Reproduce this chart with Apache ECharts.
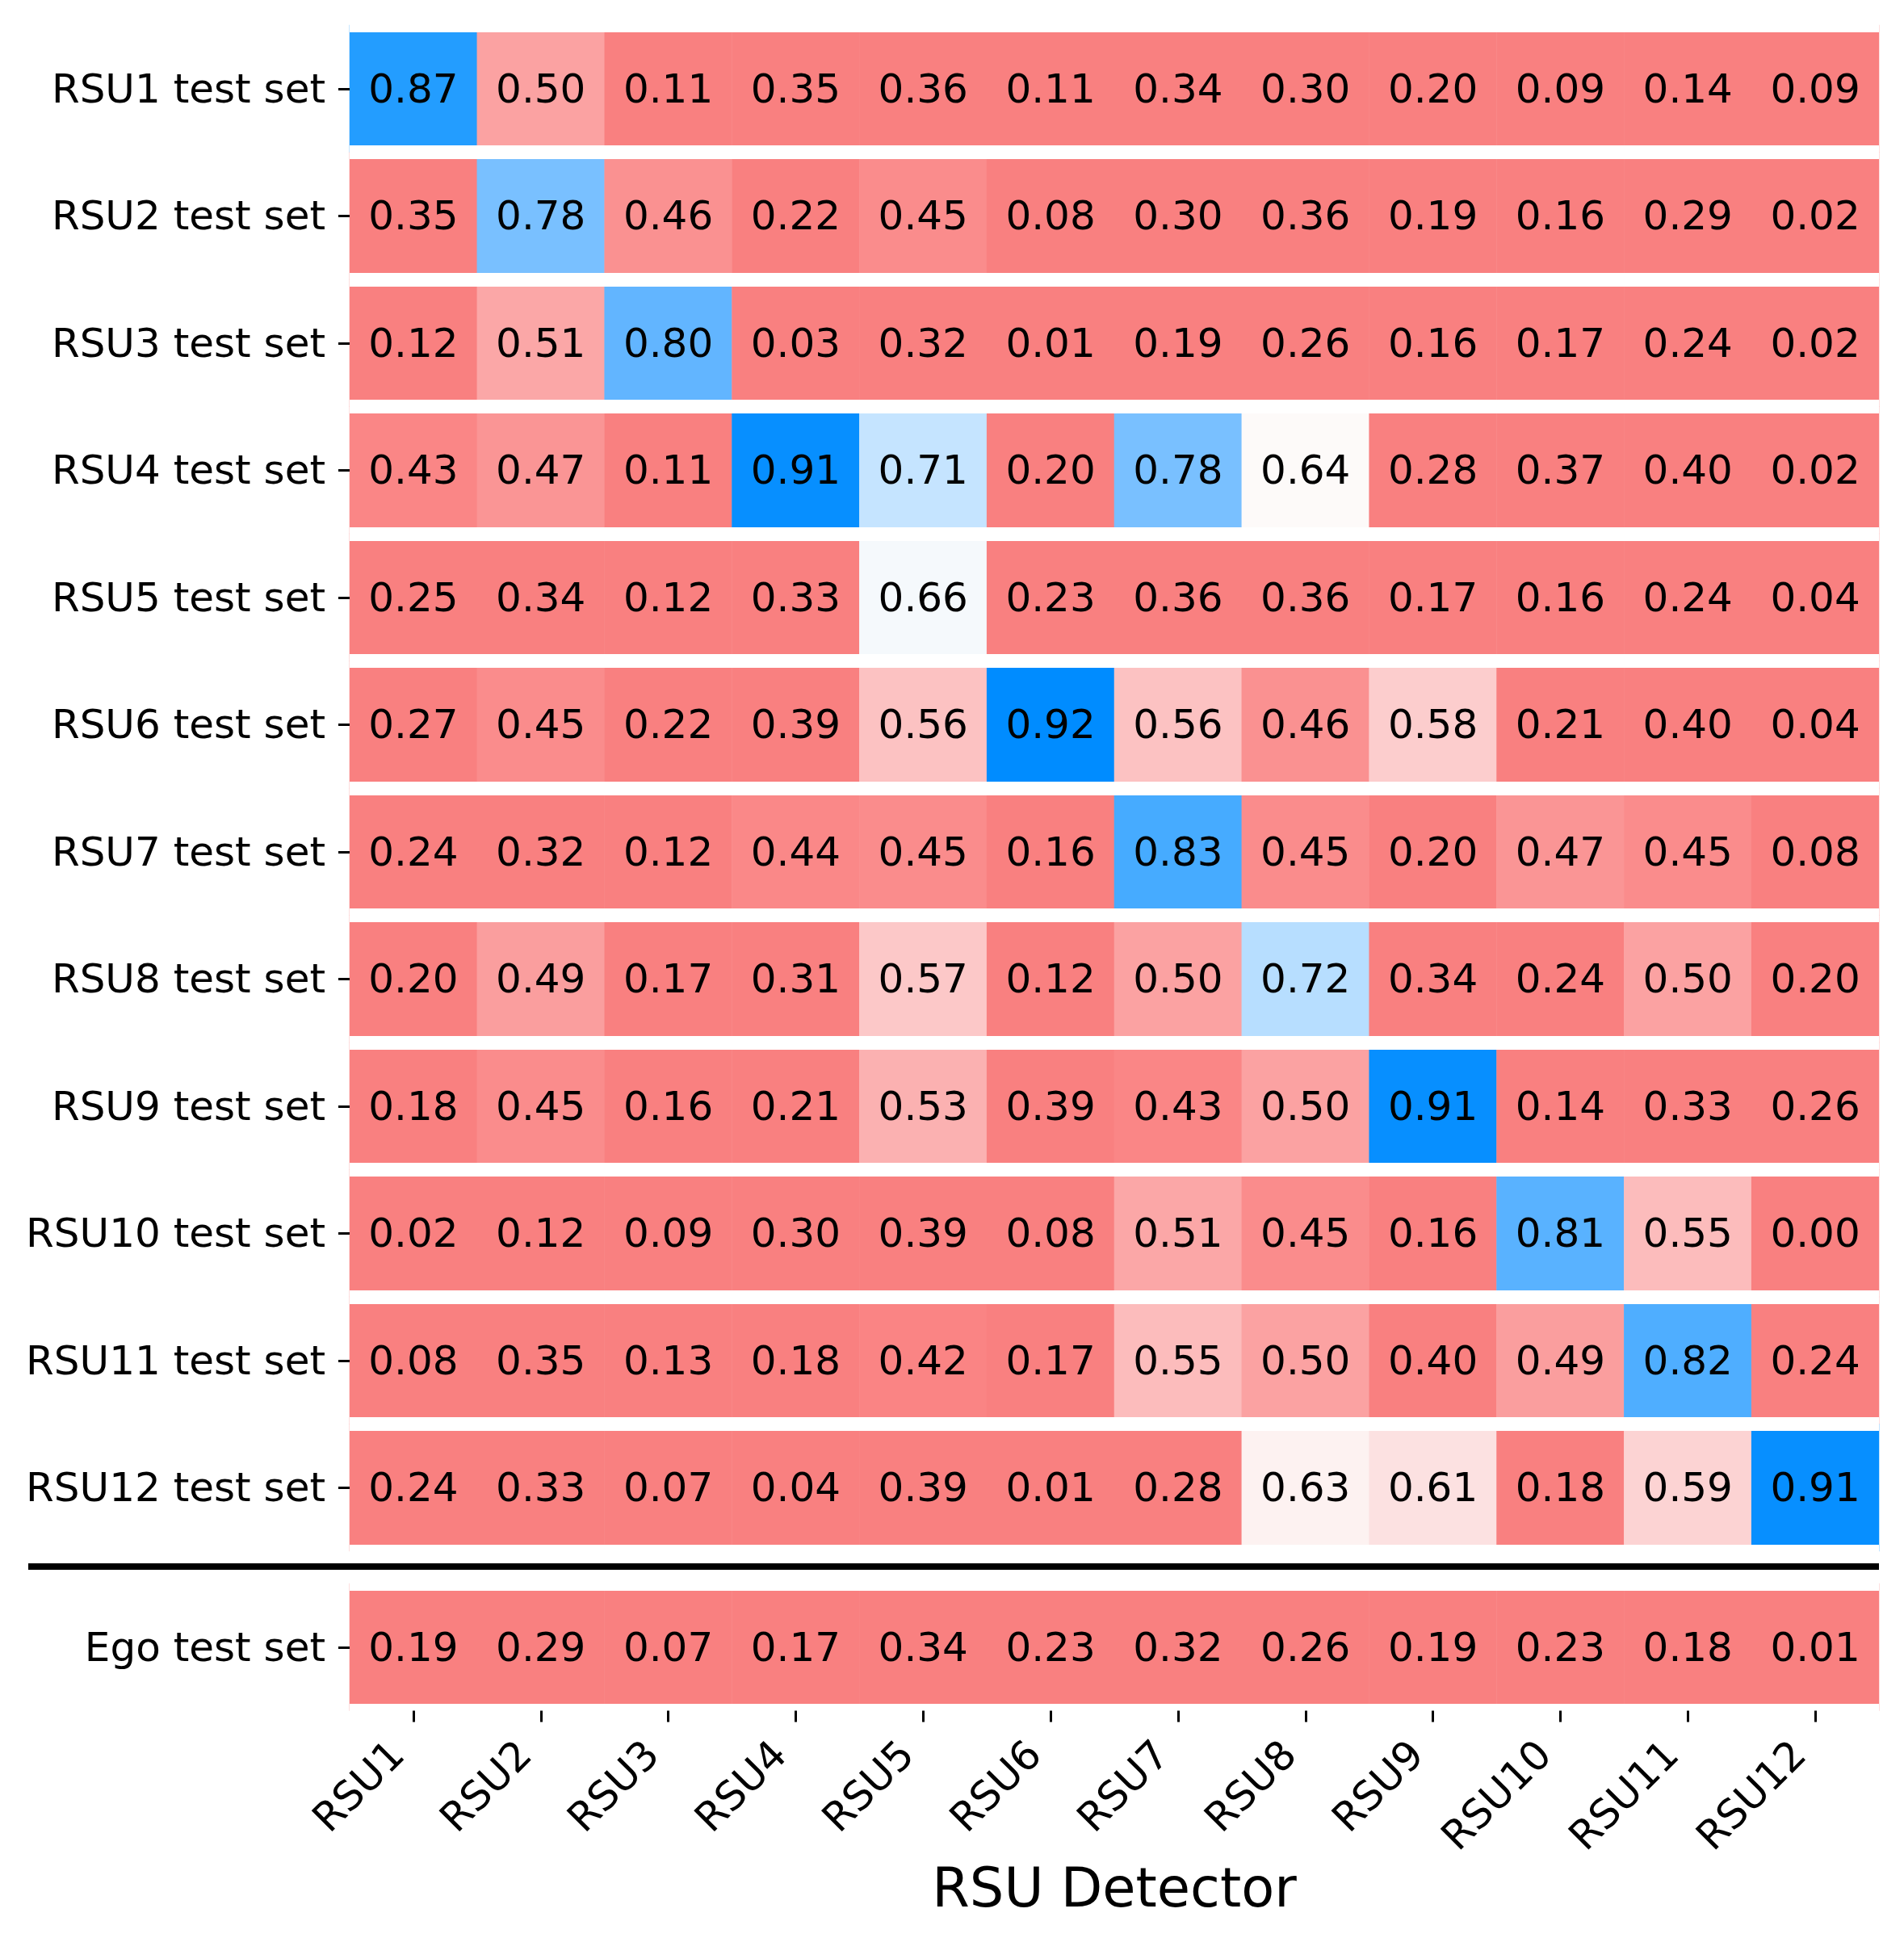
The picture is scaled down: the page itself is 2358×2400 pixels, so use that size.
<!DOCTYPE html>
<html>
<head>
<meta charset="utf-8">
<script src="https://cdn.jsdelivr.net/npm/echarts@6/dist/echarts.min.js"></script>
<style>
  html, body { margin: 0; padding: 0; background: #fff; }
  #main { width: 2358px; height: 2400px; }
</style>
</head>
<body>
<div id="main"></div>
<script>
// detectors on the x axis
const detectors = ['RSU1', 'RSU2', 'RSU3', 'RSU4', 'RSU5', 'RSU6',
  'RSU7', 'RSU8', 'RSU9', 'RSU10', 'RSU11', 'RSU12']
// test sets on the y axis (top to bottom)
const testSets = ['RSU1 test set', 'RSU2 test set', 'RSU3 test set', 'RSU4 test set',
  'RSU5 test set', 'RSU6 test set', 'RSU7 test set', 'RSU8 test set',
  'RSU9 test set', 'RSU10 test set', 'RSU11 test set', 'RSU12 test set']
const egoSet = ['Ego test set']

// one row per test set, one value per detector
const rsuScores = [
  [0.87, 0.50, 0.11, 0.35, 0.36, 0.11, 0.34, 0.30, 0.20, 0.09, 0.14, 0.09],
  [0.35, 0.78, 0.46, 0.22, 0.45, 0.08, 0.30, 0.36, 0.19, 0.16, 0.29, 0.02],
  [0.12, 0.51, 0.80, 0.03, 0.32, 0.01, 0.19, 0.26, 0.16, 0.17, 0.24, 0.02],
  [0.43, 0.47, 0.11, 0.91, 0.71, 0.20, 0.78, 0.64, 0.28, 0.37, 0.40, 0.02],
  [0.25, 0.34, 0.12, 0.33, 0.66, 0.23, 0.36, 0.36, 0.17, 0.16, 0.24, 0.04],
  [0.27, 0.45, 0.22, 0.39, 0.56, 0.92, 0.56, 0.46, 0.58, 0.21, 0.40, 0.04],
  [0.24, 0.32, 0.12, 0.44, 0.45, 0.16, 0.83, 0.45, 0.20, 0.47, 0.45, 0.08],
  [0.20, 0.49, 0.17, 0.31, 0.57, 0.12, 0.50, 0.72, 0.34, 0.24, 0.50, 0.20],
  [0.18, 0.45, 0.16, 0.21, 0.53, 0.39, 0.43, 0.50, 0.91, 0.14, 0.33, 0.26],
  [0.02, 0.12, 0.09, 0.30, 0.39, 0.08, 0.51, 0.45, 0.16, 0.81, 0.55, 0.00],
  [0.08, 0.35, 0.13, 0.18, 0.42, 0.17, 0.55, 0.50, 0.40, 0.49, 0.82, 0.24],
  [0.24, 0.33, 0.07, 0.04, 0.39, 0.01, 0.28, 0.63, 0.61, 0.18, 0.59, 0.91]
]
const egoScores = [0.19, 0.29, 0.07, 0.17, 0.34, 0.23, 0.32, 0.26, 0.19, 0.23, 0.18, 0.01]

// colour stops, evenly spaced from 0 to 1 (step 0.04)
const palette = [
  '#F98080', '#F98080', '#F98080', '#F98080', '#F98080', '#F98080',
  '#F98080', '#F98080', '#F98080', '#F98080', '#F98080',
  '#FA8888', '#FA9999', '#FBABAB', '#FCC2C2', '#FCD9D9', '#FDFAF9',
  '#EDF7FF', '#B7DEFF', '#90CBFF', '#62B5FF', '#3CA7FF', '#1A99FF',
  '#008CFF', '#008CFF', '#008CFF'
]

const FONT = 'DejaVu Sans'
const LEFT = 433
const RIGHT = 31
const TOP = 31
const ROW = 157.5
const EGO_TOP = 1961

const mainData = []
rsuScores.forEach((row, y) => {
  row.forEach((v, x) => mainData.push([x, y, v]))
})
const egoData = egoScores.map((v, x) => [x, 0, v])

function tickStyle() {
  return { show: true, length: 14, alignWithLabel: true, lineStyle: { color: '#000', width: 3 } }
}

function yAxisOf(gridIndex, data) {
  return {
    type: 'category',
    gridIndex: gridIndex,
    data: data,
    inverse: true,
    z: 5,
    axisLine: { show: false },
    axisTick: tickStyle(),
    axisLabel: {
      color: '#000',
      fontSize: 50,
      fontFamily: FONT,
      margin: 30,
      // nudge the text down a little, like the cell labels
      formatter: v => '{t|' + v + '}',
      rich: { t: { fontSize: 50, fontFamily: FONT, color: '#000', padding: [8, 0, 0, 0] } }
    },
    splitLine: { show: true, lineStyle: { color: '#fff', width: 17 } }
  }
}

function cellLabel() {
  return {
    show: true,
    color: '#000',
    fontSize: 50,
    fontFamily: FONT,
    offset: [0, 4],
    formatter: p => p.value[2].toFixed(2)
  }
}

const chart = echarts.init(document.getElementById('main'))
chart.setOption({
  backgroundColor: '#fff',
  animation: false,
  grid: [
    { left: LEFT, right: RIGHT, top: TOP, height: ROW * 12, outerBoundsMode: 'none' },
    { left: LEFT, right: RIGHT, top: EGO_TOP, height: ROW, outerBoundsMode: 'none' }
  ],
  xAxis: [
    { type: 'category', gridIndex: 0, data: detectors, show: false },
    {
      type: 'category',
      gridIndex: 1,
      data: detectors,
      z: 8,
      axisLine: { show: false },
      axisTick: tickStyle(),
      axisLabel: {
        rotate: 45,
        align: 'right',
        verticalAlign: 'bottom',
        margin: 66,
        color: '#000',
        fontSize: 50,
        fontFamily: FONT
      },
      splitLine: { show: false },
      name: 'RSU Detector',
      nameLocation: 'middle',
      nameGap: 192,
      nameMoveOverlap: false,
      nameTextStyle: { color: '#000', fontSize: 67, fontFamily: FONT }
    }
  ],
  yAxis: [yAxisOf(0, testSets), yAxisOf(1, egoSet)],
  visualMap: {
    type: 'continuous',
    show: false,
    min: 0,
    max: 1,
    seriesIndex: [0, 1],
    inRange: { color: palette }
  },
  series: [
    {
      type: 'heatmap',
      xAxisIndex: 0,
      yAxisIndex: 0,
      data: mainData,
      label: cellLabel(),
      itemStyle: { borderWidth: 0 },
      emphasis: { disabled: true }
    },
    {
      type: 'heatmap',
      xAxisIndex: 1,
      yAxisIndex: 1,
      data: egoData,
      label: cellLabel(),
      itemStyle: { borderWidth: 0 },
      emphasis: { disabled: true }
    }
  ],
  graphic: [
    {
      // separator between the RSU rows and the ego row
      type: 'line',
      shape: { x1: 35, y1: 1940, x2: 2358 - RIGHT, y2: 1940 },
      style: { stroke: '#000', lineWidth: 8 },
      z: 10
    }
  ]
})
</script>
</body>
</html>
